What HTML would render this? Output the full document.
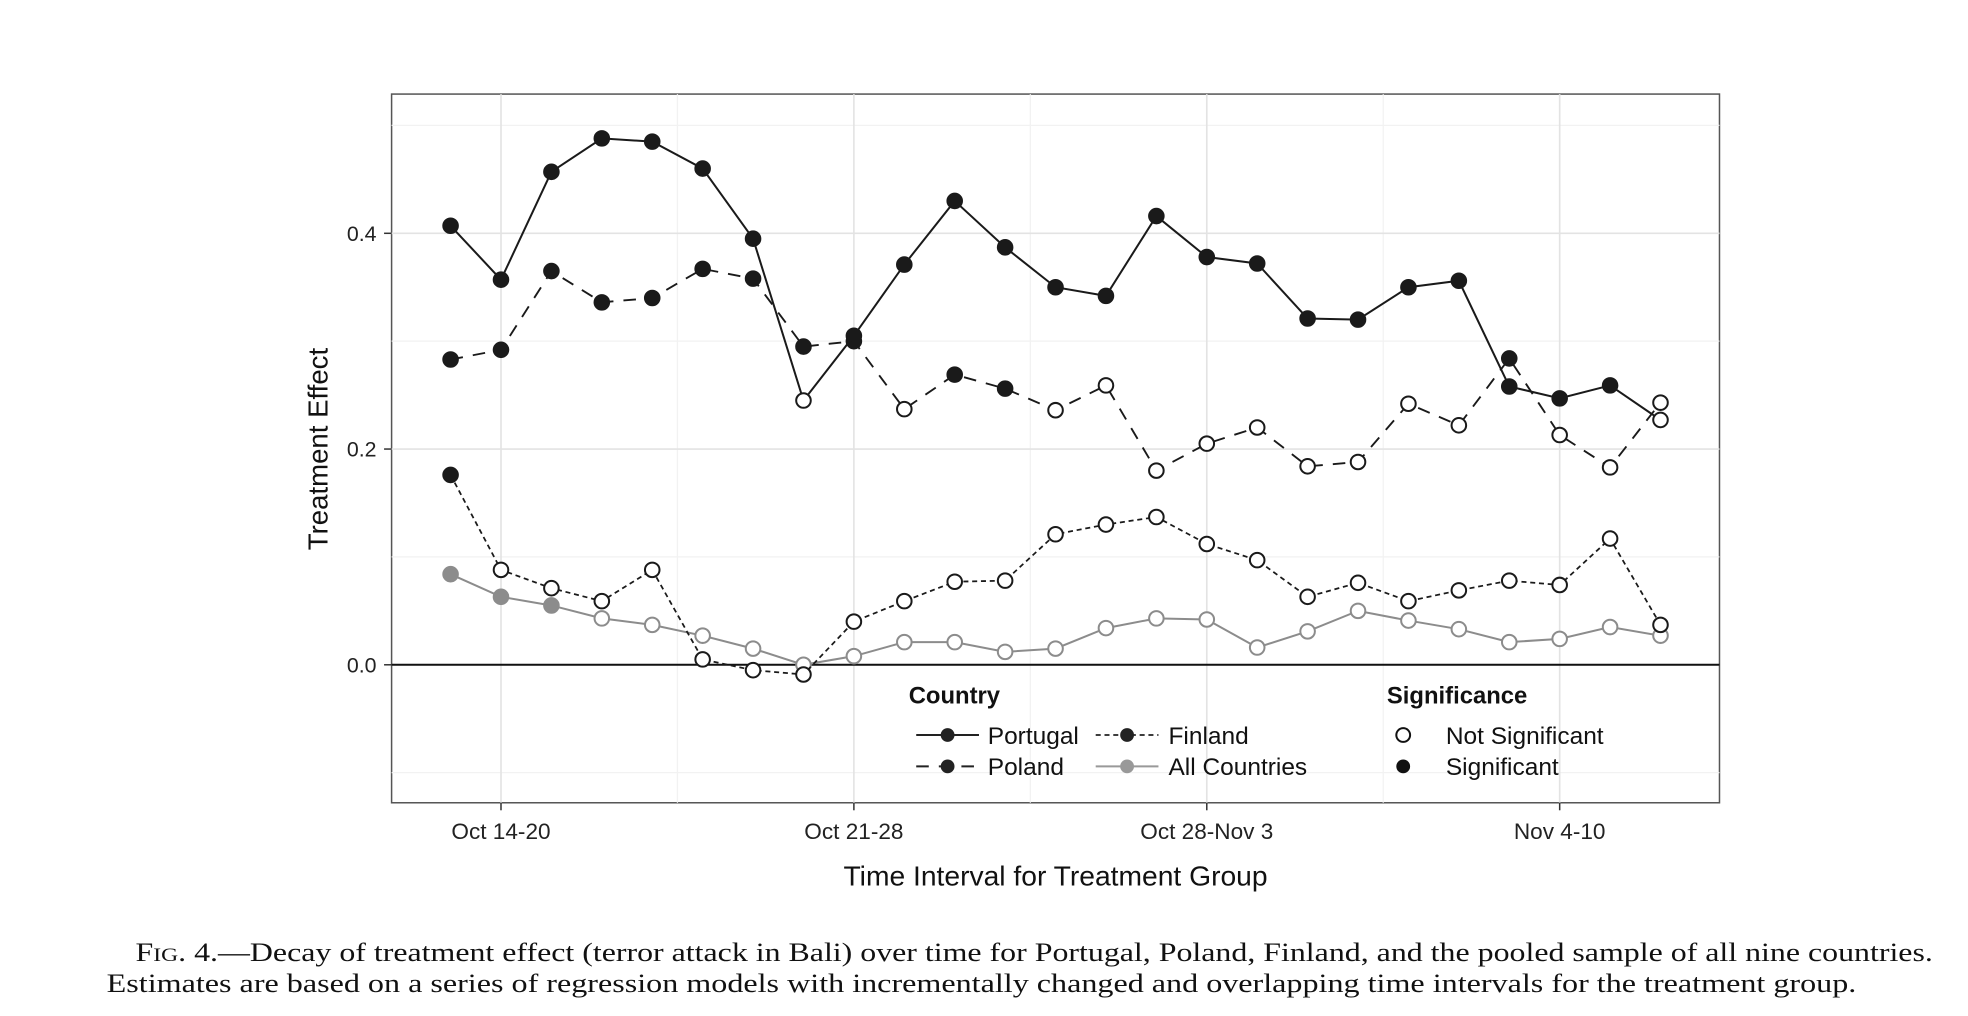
<!DOCTYPE html>
<html><head><meta charset="utf-8">
<style>
html,body{margin:0;padding:0;background:#fff;}
svg{display:block;}
</style></head>
<body>
<svg id="chart" width="1968" height="1016" viewBox="0 0 1568 810" preserveAspectRatio="none" xmlns="http://www.w3.org/2000/svg" font-family="Liberation Sans, sans-serif">
<rect x="312" y="75" width="1058" height="565" fill="#fff" stroke="#555" stroke-width="1.2"/>
<g id="grid"></g>
<g id="series"></g>
<g id="axes"></g>
<g>
<text x="724" y="561" font-size="19" font-weight="bold" fill="#111">Country</text>
<g><line x1="730" y1="586" x2="780" y2="586" stroke="#222" stroke-width="1.6"/><circle cx="755" cy="586" r="5.5" fill="#222"/><text x="787" y="593" font-size="19.5" fill="#111">Portugal</text></g>
<g><line x1="730" y1="611" x2="780" y2="611" stroke="#222" stroke-width="1.6" stroke-dasharray="10,8"/><circle cx="755" cy="611" r="5.5" fill="#222"/><text x="787" y="618" font-size="19.5" fill="#111">Poland</text></g>
<g><line x1="873" y1="586" x2="923" y2="586" stroke="#222" stroke-width="1.4" stroke-dasharray="4,3"/><circle cx="898" cy="586" r="5.5" fill="#222"/><text x="931" y="593" font-size="19.5" fill="#111">Finland</text></g>
<g><line x1="873" y1="611" x2="923" y2="611" stroke="#999" stroke-width="1.6"/><circle cx="898" cy="611" r="5.5" fill="#999"/><text x="931" y="618" font-size="19.5" fill="#111">All Countries</text></g>
<text x="1105" y="561" font-size="19" font-weight="bold" fill="#111">Significance</text>
<g><circle cx="1118" cy="586" r="5.5" fill="#fff" stroke="#111" stroke-width="1.6"/><text x="1152" y="593" font-size="19.5" fill="#111">Not Significant</text></g>
<g><circle cx="1118" cy="611" r="5.5" fill="#111"/><text x="1152" y="618" font-size="19.5" fill="#111">Significant</text></g>
</g>
<text x="261" y="358" font-size="22" fill="#111" text-anchor="middle" transform="rotate(-90 261 358)">Treatment Effect</text>
<text x="841" y="706" font-size="22.5" fill="#111" text-anchor="middle">Time Interval for Treatment Group</text>
<text x="108" y="766" font-size="21" font-family="Liberation Serif, serif" fill="#111" textLength="1432" lengthAdjust="spacingAndGlyphs"><tspan>F</tspan><tspan font-size="15.5">IG</tspan><tspan>. 4.—Decay of treatment effect (terror attack in Bali) over time for Portugal, Poland, Finland, and the pooled sample of all nine countries.</tspan></text>
<text x="85" y="791" font-size="21" font-family="Liberation Serif, serif" fill="#111" textLength="1394" lengthAdjust="spacingAndGlyphs">Estimates are based on a series of regression models with incrementally changed and overlapping time intervals for the treatment group.</text>
</svg>
<script>
const categories = ["t1","t2","t3","t4","t5","t6","t7","t8","t9","t10","t11","t12","t13","t14","t15","t16","t17","t18","t19","t20","t21","t22","t23","t24","t25"];
const xTickLabels = ["Oct 14-20","Oct 21-28","Oct 28-Nov 3","Nov 4-10"];
const xTickIndex = [1,8,15,22];
const yTicks = [0.0,0.2,0.4];
const yTickLabels = ["0.0","0.2","0.4"];
const portugal = [0.407,0.357,0.457,0.488,0.485,0.460,0.395,0.245,0.305,0.371,0.430,0.387,0.350,0.342,0.416,0.378,0.372,0.321,0.320,0.350,0.356,0.258,0.247,0.259,0.227];
const portugalSig = [1,1,1,1,1,1,1,0,1,1,1,1,1,1,1,1,1,1,1,1,1,1,1,1,0];
const poland = [0.283,0.292,0.365,0.336,0.340,0.367,0.358,0.295,0.300,0.237,0.269,0.256,0.236,0.259,0.180,0.205,0.220,0.184,0.188,0.242,0.222,0.284,0.213,0.183,0.243];
const polandSig = [1,1,1,1,1,1,1,1,1,0,1,1,0,0,0,0,0,0,0,0,0,1,0,0,0];
const finland = [0.176,0.088,0.071,0.059,0.088,0.005,-0.005,-0.009,0.040,0.059,0.077,0.078,0.121,0.130,0.137,0.112,0.097,0.063,0.076,0.059,0.069,0.078,0.074,0.117,0.037];
const finlandSig = [1,0,0,0,0,0,0,0,0,0,0,0,0,0,0,0,0,0,0,0,0,0,0,0,0];
const allCountries = [0.084,0.063,0.055,0.043,0.037,0.027,0.015,0.000,0.008,0.021,0.021,0.012,0.015,0.034,0.043,0.042,0.016,0.031,0.050,0.041,0.033,0.021,0.024,0.035,0.027];
const allSig = [1,1,1,0,0,0,0,0,0,0,0,0,0,0,0,0,0,0,0,0,0,0,0,0,0];

const NS="http://www.w3.org/2000/svg";
const X0=359, DX=(1323-359)/24, Y0=530, YS=860;
const xs=i=>X0+i*DX;
const ys=v=>Y0-v*YS;
function mk(tag,attrs,parent){const e=document.createElementNS(NS,tag);for(const k in attrs)e.setAttribute(k,attrs[k]);parent.appendChild(e);return e;}
const grid=document.getElementById('grid'), axes=document.getElementById('axes'), ser=document.getElementById('series');
[-0.1,0.1,0.3,0.5].forEach(v=>{const l=mk('line',{x1:312,x2:1370,y1:ys(v),y2:ys(v),stroke:'#f2f2f2','stroke-width':1},grid);

});
[4.5,11.5,18.5].forEach(i=>{const l=mk('line',{x1:xs(i),x2:xs(i),y1:75,y2:640,stroke:'#f2f2f2','stroke-width':1},grid);

});
yTicks.forEach((v,k)=>{const l=mk('line',{x1:312,x2:1370,y1:ys(v),y2:ys(v),stroke:'#e3e3e3','stroke-width':1.3},grid);


const t=mk('line',{x1:306,x2:312,y1:ys(v),y2:ys(v),stroke:'#333','stroke-width':1.2},axes);


const tx=mk('text',{x:300,y:ys(v)+6,'font-size':17,'text-anchor':'end',fill:'#222'},axes);tx.textContent=yTickLabels[k];

});
xTickIndex.forEach((i,k)=>{const l=mk('line',{x1:xs(i),x2:xs(i),y1:75,y2:640,stroke:'#e3e3e3','stroke-width':1.3},grid);


const t=mk('line',{x1:xs(i),x2:xs(i),y1:640,y2:646,stroke:'#333','stroke-width':1.2},axes);


const tx=mk('text',{x:xs(i),y:669,'font-size':18,'text-anchor':'middle',fill:'#222'},axes);tx.textContent=xTickLabels[k];

});
const zl=mk('line',{x1:312,x2:1370,y1:ys(0),y2:ys(0),stroke:'#111','stroke-width':1.6},grid);



function drawSeries(name,vals,sig,color,dash,w){
  const g=mk('g',{},ser);
  
  
  const p=mk('polyline',{points:vals.map((v,i)=>xs(i)+','+ys(v)).join(' '),fill:'none',stroke:color,'stroke-width':w,'stroke-dasharray':dash},g);
  
  
  vals.forEach((v,i)=>{const c=mk('circle',{cx:xs(i),cy:ys(v),r:5.8,fill:sig[i]?color:'#fff',stroke:color,'stroke-width':1.6},g);
  
  });
}
drawSeries('all-countries',allCountries,allSig,'#8c8c8c','none',1.6);
drawSeries('finland',finland,finlandSig,'#1a1a1a','4,3',1.4);
drawSeries('poland',poland,polandSig,'#1a1a1a','10,8',1.5);
drawSeries('portugal',portugal,portugalSig,'#1a1a1a','none',1.6);
</script>
</body></html>
